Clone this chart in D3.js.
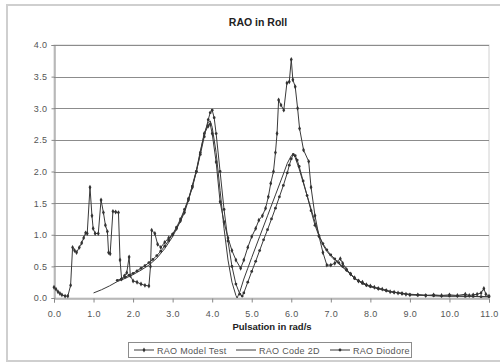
<!DOCTYPE html>
<html>
<head>
<meta charset="utf-8">
<script src="https://cdn.jsdelivr.net/npm/d3@7"></script>
<style>
  html, body { margin: 0; padding: 0; background: #fff; }
  svg { display: block; font-family: "Liberation Sans", Arial, sans-serif; }
</style>
</head>
<body>
<svg id="chart" width="500" height="364"></svg>
<script>
// Roll RAO: measured model test vs. two numerical codes (pulsation in rad/s)
const modelTestX = [0.0,0.05,0.1,0.15,0.2,0.28,0.35,0.42,0.47,0.52,0.57,0.64,0.7,0.75,0.8,0.84,0.91,0.96,0.99,1.04,1.12,1.19,1.25,1.3,1.35,1.38,1.42,1.49,1.56,1.63,1.67,1.71,1.78,1.84,1.9,1.93,2.0,2.1,2.2,2.3,2.4,2.44,2.47,2.55,2.62,2.7,2.8,2.9,3.0,3.1,3.2,3.3,3.4,3.5,3.6,3.7,3.8,3.9,3.95,4.0,4.1,4.2,4.3,4.4,4.5,4.6,4.72,4.8,4.9,5.0,5.1,5.18,5.27,5.35,5.42,5.48,5.55,5.6,5.64,5.68,5.74,5.81,5.89,5.95,6.0,6.04,6.1,6.16,6.21,6.31,6.44,6.5,6.6,6.7,6.8,6.9,7.0,7.1,7.24,7.3,7.4,7.5,7.6,7.7,7.8,7.9,8.0,8.1,8.2,8.3,8.4,8.5,8.6,8.7,8.8,8.9,9.0,9.2,9.4,9.6,9.8,10.0,10.2,10.4,10.5,10.6,10.7,10.8,10.87,10.92,11.0];
const modelTestY = [0.17,0.14,0.1,0.07,0.05,0.03,0.03,0.2,0.8,0.75,0.72,0.8,0.87,0.95,1.03,1.02,1.75,1.3,1.1,1.02,1.02,1.55,1.35,1.15,1.05,0.72,0.7,1.37,1.36,1.35,0.6,0.3,0.35,0.4,0.65,0.35,0.27,0.25,0.22,0.2,0.19,0.5,1.07,1.02,0.85,0.8,0.88,0.95,1.0,1.1,1.22,1.35,1.55,1.75,2.0,2.3,2.6,2.72,2.75,2.6,2.15,1.52,1.2,0.95,0.75,0.6,0.47,0.6,0.8,0.97,1.1,1.23,1.3,1.42,1.6,1.81,2.0,2.3,2.6,3.13,3.05,2.97,3.4,3.42,3.77,3.45,3.34,3.0,2.68,2.34,2.16,1.75,1.3,0.98,0.72,0.52,0.52,0.55,0.62,0.55,0.45,0.38,0.32,0.27,0.25,0.21,0.19,0.17,0.15,0.14,0.12,0.1,0.09,0.08,0.07,0.06,0.05,0.05,0.04,0.05,0.04,0.05,0.04,0.06,0.04,0.05,0.06,0.08,0.15,0.06,0.03];

const code2dX = [1.0,1.2,1.4,1.6,1.8,2.0,2.2,2.4,2.6,2.8,3.0,3.2,3.4,3.6,3.7,3.8,3.9,3.95,4.0,4.1,4.2,4.3,4.4,4.5,4.6,4.63,4.7,4.8,4.9,5.0,5.2,5.4,5.6,5.8,5.9,6.0,6.05,6.1,6.2,6.4,6.6,6.7,6.8,6.9,7.0,7.2,7.4,7.6,7.8,8.0,8.5,9.0,9.5,10.0,10.5,11.0];
const code2dY = [0.08,0.13,0.19,0.26,0.31,0.37,0.44,0.52,0.63,0.78,0.97,1.22,1.55,2.02,2.32,2.6,2.78,2.8,2.7,2.3,1.7,1.1,0.6,0.25,0.04,0.0,0.1,0.3,0.47,0.64,0.97,1.3,1.63,1.96,2.13,2.25,2.27,2.22,2.04,1.62,1.2,1.0,0.84,0.74,0.66,0.54,0.43,0.31,0.23,0.18,0.1,0.06,0.04,0.03,0.03,0.02];

const diodoreX = [1.6,1.7,1.8,1.9,2.0,2.1,2.2,2.3,2.4,2.5,2.6,2.7,2.8,2.9,3.0,3.1,3.2,3.3,3.4,3.5,3.6,3.7,3.8,3.9,3.95,4.0,4.05,4.1,4.2,4.3,4.4,4.5,4.6,4.7,4.76,4.8,4.9,5.0,5.1,5.2,5.3,5.4,5.5,5.6,5.7,5.8,5.9,5.95,6.0,6.05,6.1,6.15,6.2,6.3,6.4,6.5,6.6,6.7,6.8,6.9,7.0,7.1,7.2,7.3,7.4,7.5,7.6,7.7,7.8,7.9,8.0,8.2,8.4,8.6,8.8,9.0,9.2,9.4,9.6,9.8,10.0,10.2,10.4,10.6,10.8,11.0];
const diodoreY = [0.28,0.3,0.33,0.36,0.39,0.43,0.47,0.51,0.56,0.61,0.67,0.74,0.82,0.91,1.01,1.12,1.25,1.4,1.57,1.77,2.0,2.27,2.55,2.82,2.93,2.97,2.85,2.6,2.0,1.4,0.9,0.5,0.22,0.06,0.03,0.08,0.25,0.42,0.58,0.75,0.92,1.08,1.25,1.42,1.6,1.78,1.98,2.1,2.2,2.27,2.25,2.18,2.08,1.85,1.62,1.38,1.15,0.98,0.86,0.76,0.68,0.62,0.56,0.5,0.44,0.38,0.31,0.27,0.23,0.2,0.18,0.15,0.12,0.09,0.07,0.05,0.045,0.04,0.035,0.03,0.03,0.03,0.025,0.025,0.02,0.02];

const yTicks = [0, 0.5, 1.0, 1.5, 2.0, 2.5, 3.0, 3.5, 4.0];
const xTicks = [0,1,2,3,4,5,6,7,8,9,10,11];
const seriesNames = ["RAO Model Test", "RAO Code 2D", "RAO Diodore"];

const svg = d3.select("#chart");
const W = 500, H = 364;
const plot = { left: 54, right: 489, top: 45, bottom: 298 };

const x = d3.scaleLinear().domain([0, 11]).range([plot.left, plot.right]);
const y = d3.scaleLinear().domain([0, 4]).range([plot.bottom, plot.top]);

// outer chart frame
svg.append("rect")
  .attr("x", 7).attr("y", 5).attr("width", W - 5).attr("height", H - 8)
  .attr("fill", "#fff").attr("stroke", "#cfcfcf").attr("stroke-width", 2);

// plot area frame
svg.append("rect")
  .attr("x", plot.left).attr("y", plot.top)
  .attr("width", plot.right - plot.left).attr("height", plot.bottom - plot.top)
  .attr("fill", "#fff").attr("stroke", "#d0d0d0").attr("stroke-width", 1);

// horizontal gridlines
svg.append("g")
  .selectAll("line")
  .data(yTicks.filter(d => d > 0))
  .join("line")
  .attr("x1", plot.left).attr("x2", plot.right)
  .attr("y1", d => Math.round(y(d)) + 0.5).attr("y2", d => Math.round(y(d)) + 0.5)
  .attr("stroke", "#8c8c8c").attr("stroke-width", 1);

const tickTextStyle = sel => sel
  .attr("fill", "#555")
  .style("font-size", "9px")
  .style("letter-spacing", "0.4px");

// y axis
const yAxis = svg.append("g")
  .attr("transform", `translate(${plot.left + 0.5},0)`)
  .call(d3.axisLeft(y).tickValues(yTicks).tickFormat(d3.format(".1f")).tickSize(3).tickPadding(4));
yAxis.select(".domain").attr("stroke", "#888");
yAxis.selectAll(".tick line").attr("stroke", "#888");
yAxis.selectAll("text").call(tickTextStyle);

// x axis
const xAxis = svg.append("g")
  .attr("transform", `translate(0,${plot.bottom + 0.5})`)
  .call(d3.axisBottom(x).tickValues(xTicks).tickFormat(d3.format(".1f")).tickSize(4).tickPadding(8));
xAxis.select(".domain").attr("stroke", "#888");
xAxis.selectAll(".tick line").attr("stroke", "#888");
xAxis.selectAll("text").call(tickTextStyle);

// title and axis label
svg.append("text")
  .attr("x", 258).attr("y", 26).attr("text-anchor", "middle")
  .style("font-size", "10.5px").style("font-weight", "bold").attr("fill", "#222")
  .text("RAO in Roll");
svg.append("text")
  .attr("x", 272).attr("y", 330).attr("text-anchor", "middle")
  .style("font-size", "9.5px").style("font-weight", "bold").attr("fill", "#222")
  .text("Pulsation in rad/s");

const line = d3.line().x(d => x(d[0])).y(d => y(d[1]));
const zipXY = (xs, ys) => xs.map((v, i) => [v, ys[i]]);
const series = [
  { name: seriesNames[0], pts: zipXY(modelTestX, modelTestY), marker: "diamond" },
  { name: seriesNames[1], pts: zipXY(code2dX, code2dY), marker: null },
  { name: seriesNames[2], pts: zipXY(diodoreX, diodoreY), marker: "circle" }
];

const symbolFor = m => m === "diamond" ? d3.symbol(d3.symbolDiamond, 7) : d3.symbol(d3.symbolCircle, 6);

const gSeries = svg.append("g");
series.forEach(s => {
  gSeries.append("path")
    .datum(s.pts)
    .attr("d", line)
    .attr("fill", "none").attr("stroke", "#3a3a3a").attr("stroke-width", 1);
  if (s.marker) {
    gSeries.append("g")
      .selectAll("path")
      .data(s.pts)
      .join("path")
      .attr("transform", d => `translate(${x(d[0])},${y(d[1])})`)
      .attr("d", symbolFor(s.marker))
      .attr("fill", "#333");
  }
});

// legend
const lg = svg.append("g");
lg.append("rect")
  .attr("x", 128.5).attr("y", 342.5).attr("width", 283).attr("height", 15)
  .attr("fill", "#fff").attr("stroke", "#8c8c8c").attr("stroke-width", 1);
const legendX = [134, 236, 330];
series.forEach((s, i) => {
  const lx = legendX[i], ly = 350;
  lg.append("line")
    .attr("x1", lx).attr("x2", lx + 20).attr("y1", ly).attr("y2", ly)
    .attr("stroke", "#3a3a3a").attr("stroke-width", 1);
  if (s.marker) {
    lg.append("path")
      .attr("transform", `translate(${lx + 10},${ly})`)
      .attr("d", symbolFor(s.marker))
      .attr("fill", "#333");
  }
  lg.append("text")
    .attr("x", lx + 23).attr("y", ly + 3.5)
    .style("font-size", "9px").style("letter-spacing", "0.3px").attr("fill", "#555")
    .text(s.name);
});
</script>
</body>
</html>
